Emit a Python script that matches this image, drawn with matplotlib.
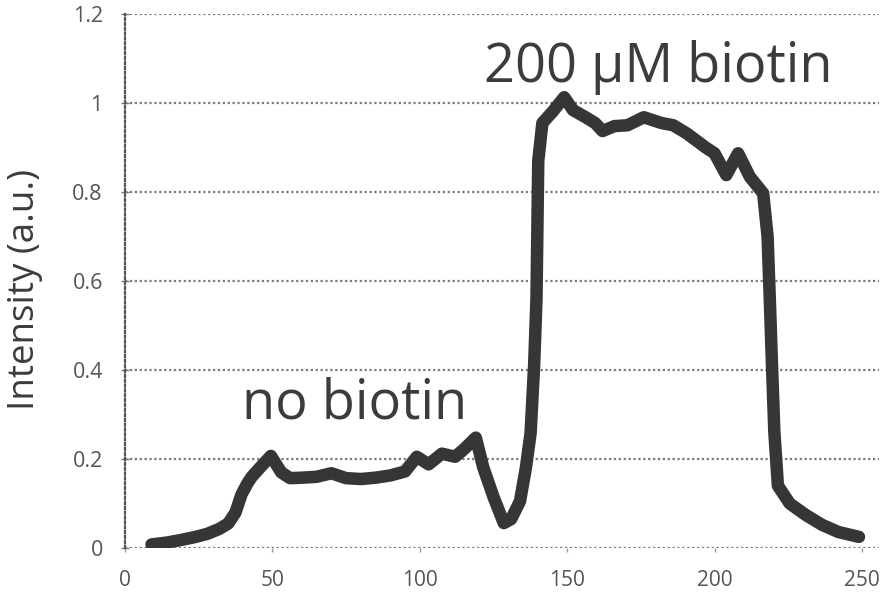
import matplotlib
matplotlib.use("Agg")
import matplotlib.pyplot as plt
from matplotlib.ticker import FixedLocator, FixedFormatter

# ---- data ----
position = [9, 14, 19, 24, 28, 32, 35, 37.5, 39.5, 41.5, 43, 46, 49.5, 53, 56,
            60, 65, 70, 75, 80, 85, 90, 95, 99, 103, 107.5, 112, 115, 119,
            121.5, 125, 128.5, 131, 134, 136, 137.6, 138.8, 139.6, 140.2,
            141.6, 145, 149, 152, 156, 159.5, 162, 166, 170.5, 176, 182, 186,
            190.5, 197, 200, 204, 208, 212, 216.5, 218, 218.8, 219.5, 220.3,
            221.5, 225.5, 231, 236.5, 242, 249]
intensity = [0.008, 0.012, 0.018, 0.025, 0.032, 0.043, 0.055, 0.08, 0.12,
             0.145, 0.16, 0.182, 0.207, 0.17, 0.157, 0.158, 0.16, 0.168,
             0.157, 0.155, 0.158, 0.163, 0.172, 0.205, 0.188, 0.212, 0.205,
             0.222, 0.248, 0.182, 0.115, 0.056, 0.065, 0.105, 0.18, 0.258,
             0.41, 0.56, 0.87, 0.955, 0.98, 1.013, 0.984, 0.969, 0.955, 0.937,
             0.948, 0.95, 0.968, 0.955, 0.95, 0.932, 0.90, 0.887, 0.838,
             0.887, 0.834, 0.797, 0.70, 0.55, 0.41, 0.26, 0.14, 0.10, 0.074,
             0.052, 0.036, 0.025]
x_ticks = [0, 50, 100, 150, 200, 250]
x_tick_labels = ["0", "50", "100", "150", "200", "250"]
y_ticks = [0, 0.2, 0.4, 0.6, 0.8, 1.0, 1.2]
y_tick_labels = ["0", "0.2", "0.4", "0.6", "0.8", "1", "1.2"]
annotations = [("no biotin", 39.6, 0.29), ("200 \u03bcM biotin", 121.8, 1.047)]
y_label = "Intensity (a.u.)"

plt.rcParams['font.family'] = ['Open Sans', 'DejaVu Sans']

W, H = 882, 592
fig = plt.figure(figsize=(W / 100, H / 100), dpi=100)
ax = fig.add_axes([125 / W, 44 / H, (879 - 125) / W, (548 - 14) / H])

line_col = '#363636'
text_col = '#3c3c3c'
tick_col = '#555555'

ax.plot(position, intensity, color=line_col, lw=9,
        solid_joinstyle='round', solid_capstyle='round', zorder=3)

ax.set_xlim(0, 255.8)
ax.set_ylim(0, 1.2)
ax.xaxis.set_major_locator(FixedLocator(x_ticks))
ax.xaxis.set_major_formatter(FixedFormatter(x_tick_labels))
ax.yaxis.set_major_locator(FixedLocator(y_ticks))
ax.yaxis.set_major_formatter(FixedFormatter(y_tick_labels))

ax.grid(axis='y', color='#7a7a7a', linestyle=(0, (1, 1.2)), linewidth=1.6, zorder=1)
for s in ['top', 'right', 'bottom']:
    ax.spines[s].set_visible(False)
ax.spines['left'].set_color('#555555')
ax.spines['left'].set_linestyle((0, (1, 1.2)))
ax.spines['left'].set_linewidth(1.6)

ax.tick_params(axis='y', direction='inout', length=6, width=1, color='#777777',
               labelsize=15.5, labelcolor=tick_col, pad=13)
ax.tick_params(axis='x', direction='out', length=3, width=1, color='#999999',
               labelsize=15, labelcolor=tick_col, pad=13)

for txt, xx, yy in annotations:
    ax.text(xx, yy, txt, fontsize=39, color=text_col, ha='left', va='baseline', zorder=4)

fig.text(25 / W, 1 - 290 / H, y_label, rotation=90, fontsize=26.5, color=text_col,
         ha='center', va='center')

fig.savefig("out.png", dpi=100)
